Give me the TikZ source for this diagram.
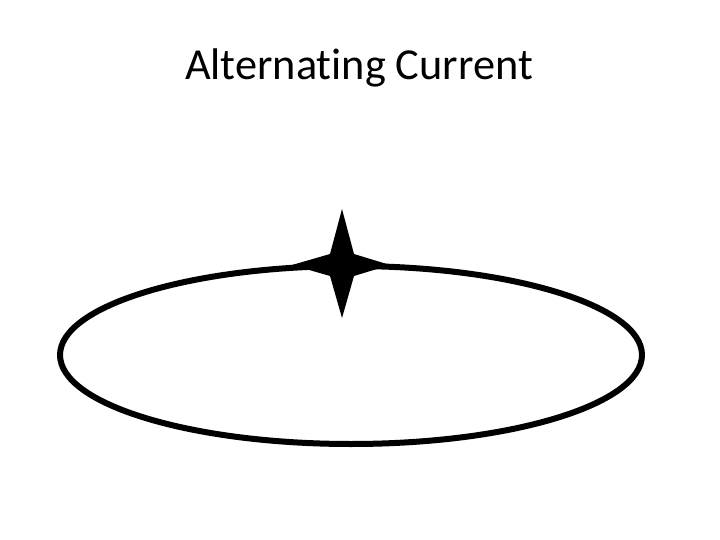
\documentclass[tikz,border=0pt]{standalone}
\usepackage{fontspec}
\setmainfont[Ligatures=NoCommon]{Carlito}
\usepackage{tikz}

\begin{document}
\begin{tikzpicture}[x=1pt,y=-1pt,
                    orbit/.style={draw=black,line width=6pt},
                    spark/.style={fill=black,draw=none}]
  \useasboundingbox (0,0) rectangle (720,540);

  \node (title) at (359,68) {\fontsize{44.3}{52}\selectfont Alternating Current};

  \coordinate (centre) at (351,355);
  \coordinate (charge) at (342,265);

  \draw[orbit] (centre) ellipse [x radius=291, y radius=89];

  % four-pointed spark sitting on the orbit
  \fill[spark] ([shift={(0,-56)}]charge) -- ([shift={(12,-11)}]charge)
                        -- ([shift={(48,0)}]charge) -- ([shift={(12,11)}]charge)
                        -- ([shift={(0,53)}]charge) -- ([shift={(-12,11)}]charge)
                        -- ([shift={(-50,0)}]charge) -- ([shift={(-12,-11)}]charge) -- cycle;
\end{tikzpicture}
\end{document}
